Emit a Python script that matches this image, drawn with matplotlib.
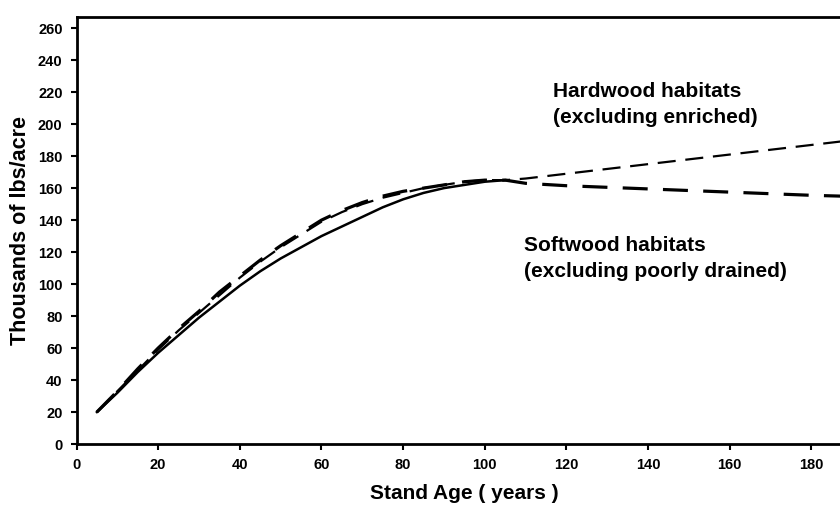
import matplotlib
matplotlib.use("Agg")
import matplotlib.pyplot as plt

plt.rcParams['font.family'] = ['Liberation Sans', 'DejaVu Sans']
plt.rcParams['font.weight'] = 'bold'
plt.rcParams['lines.scale_dashes'] = False

# stand age (years) and biomass (thousands of lbs/acre)
age_all = [5, 10, 15, 20, 25, 30, 35, 40, 45, 50, 55, 60, 65, 70, 75, 80, 85, 90, 95, 100, 105]
biomass_all = [20, 32, 45, 57, 68, 79, 89, 99, 108, 116, 123, 130, 136, 142, 148, 153, 157, 160, 162, 164, 165]

age_ext = [5, 10, 15, 20, 25, 30, 35, 40, 45, 50, 55, 60, 65, 70, 75, 80, 85, 90, 95, 100, 105,
           110, 120, 130, 140, 150, 160, 170, 180, 190]
softwood = [20, 33, 47, 60, 72, 83, 95, 105, 115, 124, 132, 140, 146, 151, 155, 158, 160, 162, 164, 165, 165,
            163, 161.5, 160.5, 159.5, 158.5, 157.5, 156.5, 155.5, 154.8]
hardwood = [20, 33, 46, 59, 71, 82, 93, 104, 114, 123, 131, 139, 145, 150, 154, 157, 160, 162, 164, 165, 165,
            166, 169, 172, 175, 178, 181, 184, 187, 190]

x_ticks = list(range(0, 181, 20))
y_ticks = list(range(0, 261, 20))

fig = plt.figure(figsize=(8.4, 5.12), dpi=100)
# axes run a little past the right edge of the figure, as in the original crop
ax = fig.add_axes([76.5 / 840, 68 / 512, 775.8 / 840, 427 / 512])

ax.plot(age_all, biomass_all, color='black', linewidth=1.8, solid_joinstyle='round')
ax.plot(age_ext, hardwood, color='black', linewidth=1.6, linestyle=(0, (13, 7)))
ax.plot(age_ext, softwood, color='black', linewidth=2.3, linestyle=(0, (18, 11)))

ax.set_xlim(0, 190)
ax.set_ylim(0, 267)
ax.set_xticks(x_ticks)
ax.set_yticks(y_ticks)
ax.tick_params(axis='both', direction='out', length=4, width=1.5, labelsize=10.5, pad=6)
for lab in ax.get_xticklabels() + ax.get_yticklabels():
    lab.set_fontweight('bold')
for side in ['left', 'bottom', 'top', 'right']:
    ax.spines[side].set_linewidth(2)

ax.set_xlabel('Stand Age ( years )', fontsize=15, fontweight='bold', labelpad=9)
ax.set_ylabel('Thousands of lbs/acre', fontsize=15.5, fontweight='bold', labelpad=5)

ax.text(116.7, 212.5, 'Hardwood habitats\n(excluding enriched)', fontsize=15, fontweight='bold',
        ha='left', va='center', linespacing=1.45)
ax.text(109.6, 116, 'Softwood habitats\n(excluding poorly drained)', fontsize=15, fontweight='bold',
        ha='left', va='center', linespacing=1.45)

fig.savefig('out.png', dpi=100)
